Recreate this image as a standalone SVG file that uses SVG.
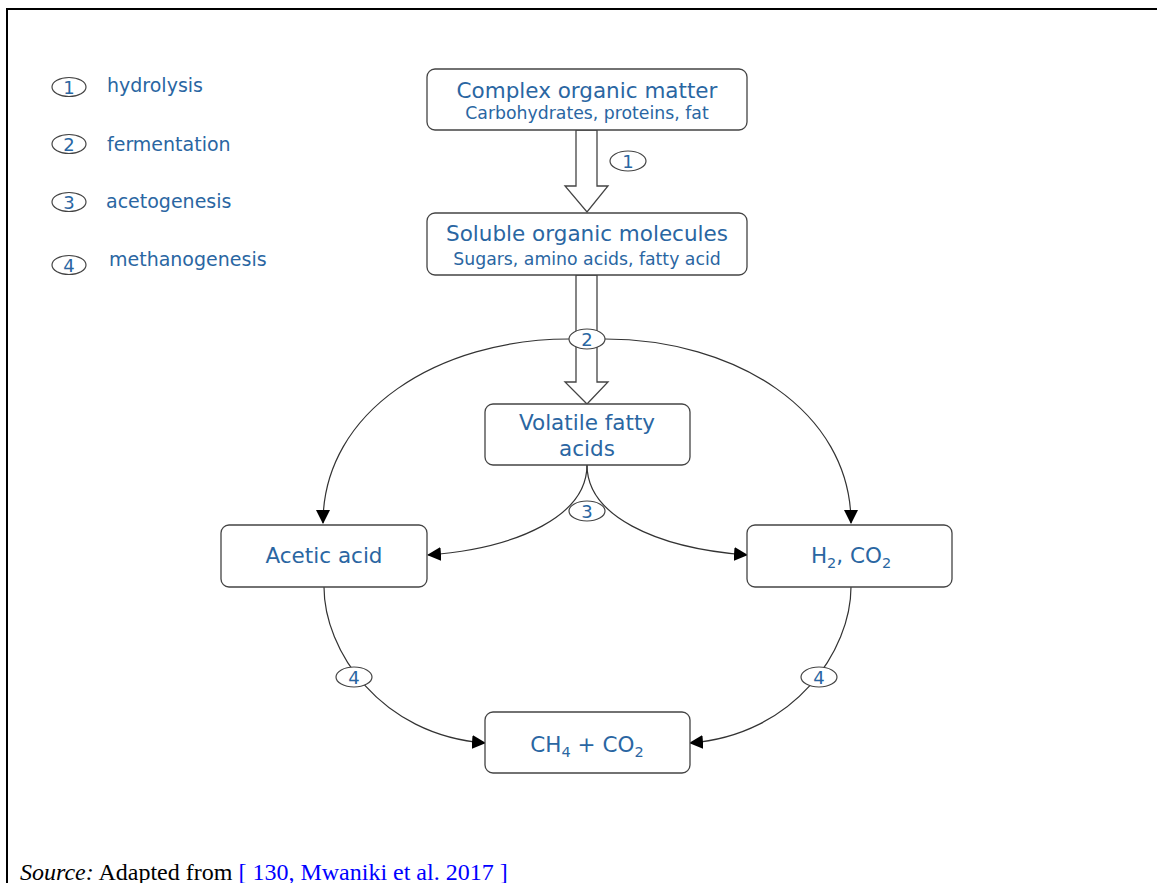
<svg xmlns="http://www.w3.org/2000/svg" width="1157" height="883" viewBox="0 0 1157 883">
<defs>
<style>
.box{fill:#fff;stroke:#444;stroke-width:1.3}
.t{font-family:"DejaVu Sans",Verdana,sans-serif;fill:#2a66a2;text-anchor:middle}
.tt{font-size:21.5px}
.st{font-size:17.3px}
.lg{font-family:"DejaVu Sans",Verdana,sans-serif;fill:#2a66a2;font-size:19px}
.num{font-family:"DejaVu Sans",Verdana,sans-serif;fill:#2a66a2;font-size:18px;text-anchor:middle}
.el{fill:#fff;stroke:#444;stroke-width:1.2}
.c{fill:none;stroke:#333;stroke-width:1.2}
.ha{fill:#fff;stroke:#444;stroke-width:1.3}
.src{font-family:"Liberation Serif","Times New Roman",serif;font-size:24px}
</style>
<marker id="ah" viewBox="0 0 14 14" refX="13" refY="7" markerWidth="14" markerHeight="14" markerUnits="userSpaceOnUse" orient="auto">
<path d="M0,0 L14,7 L0,14 Z" fill="#000"/>
</marker>
</defs>
<rect width="1157" height="883" fill="#fff"/>
<path d="M7,883 V9 H1157" fill="none" stroke="#000" stroke-width="2"/>

<g id="legend">
<ellipse class="el" cx="69" cy="87" rx="17" ry="9.5"/><text class="num" x="69" y="93.5">1</text>
<text class="lg" x="107" y="92">hydrolysis</text>
<ellipse class="el" cx="69" cy="144" rx="17" ry="9.5"/><text class="num" x="69" y="150.5">2</text>
<text class="lg" x="107" y="151">fermentation</text>
<ellipse class="el" cx="69" cy="202" rx="17" ry="9.5"/><text class="num" x="69" y="208.5">3</text>
<text class="lg" x="106" y="208">acetogenesis</text>
<ellipse class="el" cx="69" cy="265" rx="17" ry="9.5"/><text class="num" x="69" y="271.5">4</text>
<text class="lg" x="109" y="266">methanogenesis</text>
</g>

<g id="connectors">
<polygon class="ha" points="576,130 597,130 597,186 608,186 587,212 565,186 576,186"/>
<polygon class="ha" points="576,275 597,275 597,382 608,382 587,404 565,382 576,382"/>
<path class="c" d="M569,339 C440,339 323,410 323,523" marker-end="url(#ah)"/>
<path class="c" d="M605,339 C734,339 851,410 851,523" marker-end="url(#ah)"/>
<path class="c" d="M587,465 C587,515 520,548 428,555" marker-end="url(#ah)"/>
<path class="c" d="M587,465 C587,515 654,548 747,555" marker-end="url(#ah)"/>
<path class="c" d="M324,587 C324,650 380,735 485,743" marker-end="url(#ah)"/>
<path class="c" d="M851,587 C851,650 795,735 690,743" marker-end="url(#ah)"/>
</g>

<g id="labels">
<ellipse class="el" cx="628" cy="161" rx="18" ry="10"/><text class="num" x="628" y="167.5">1</text>
<ellipse class="el" cx="587" cy="339" rx="18" ry="10"/><text class="num" x="587" y="345.5">2</text>
<ellipse class="el" cx="587" cy="511" rx="18" ry="10"/><text class="num" x="587" y="517.5">3</text>
<ellipse class="el" cx="354" cy="677" rx="18" ry="10"/><text class="num" x="354" y="683.5">4</text>
<ellipse class="el" cx="819" cy="677" rx="18" ry="10"/><text class="num" x="819" y="683.5">4</text>
</g>

<g id="complex">
<rect class="box" x="427" y="69" width="320" height="61" rx="8"/>
<text class="t tt" x="587" y="98">Complex organic matter</text>
<text class="t st" x="587" y="119">Carbohydrates, proteins, fat</text>
</g>
<g id="soluble">
<rect class="box" x="427" y="213" width="320" height="62" rx="8"/>
<text class="t tt" x="587" y="241">Soluble organic molecules</text>
<text class="t st" x="587" y="265">Sugars, amino acids, fatty acid</text>
</g>
<g id="vfa">
<rect class="box" x="485" y="404" width="205" height="61" rx="8"/>
<text class="t tt" x="587" y="430">Volatile fatty</text>
<text class="t tt" x="587" y="456">acids</text>
</g>
<g id="acetic">
<rect class="box" x="221" y="525" width="206" height="62" rx="8"/>
<text class="t tt" x="324" y="563">Acetic acid</text>
</g>
<g id="h2co2">
<rect class="box" x="747" y="525" width="205" height="62" rx="8"/>
<text class="t tt" x="851" y="563">H<tspan font-size="14.5" dy="5">2</tspan><tspan dy="-5">, CO</tspan><tspan font-size="14.5" dy="5">2</tspan></text>
</g>
<g id="ch4co2">
<rect class="box" x="485" y="712" width="205" height="61" rx="8"/>
<text class="t tt" x="587" y="752">CH<tspan font-size="14.5" dy="5">4</tspan><tspan dy="-5"> + CO</tspan><tspan font-size="14.5" dy="5">2</tspan></text>
</g>

<text class="src" x="20" y="880"><tspan font-style="italic">Source:</tspan> Adapted from <tspan fill="#0000ff">[ 130, Mwaniki et al. 2017 ]</tspan></text>
</svg>
